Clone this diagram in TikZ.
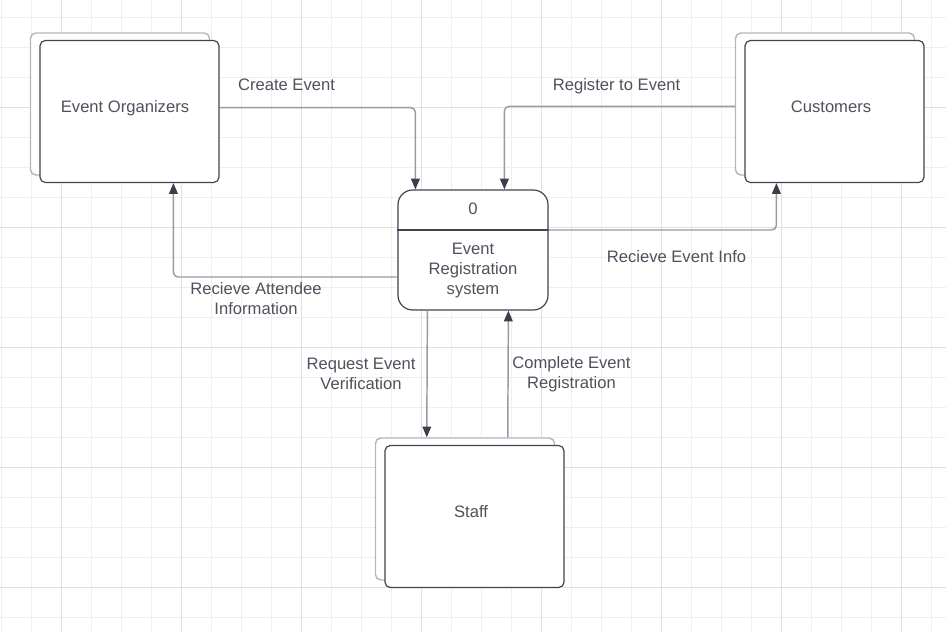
\documentclass[tikz,border=0pt]{standalone}
\usepackage{fontspec}
\setmainfont{Liberation Sans}
\usetikzlibrary{arrows.meta,calc}
\definecolor{gridminor}{HTML}{EFEFEF}
\definecolor{gridmajor}{HTML}{E0E0E0}
\definecolor{backline}{HTML}{B4B8BD}
\definecolor{frontline}{HTML}{3F4450}
\definecolor{flowline}{HTML}{979BA2}
\definecolor{tipdark}{HTML}{3A3F4B}
\definecolor{txt}{HTML}{4D525B}
\begin{document}
\begin{tikzpicture}[x=0.75pt,y=-0.75pt,
  backbox/.style={draw=backline,fill=white,line width=1.1pt,rounded corners=4pt,
    minimum width=134.25pt,minimum height=106.5pt,inner sep=0pt},
  frontbox/.style={draw=frontline,fill=white,line width=0.9pt,rounded corners=4pt,
    minimum width=134.25pt,minimum height=106.5pt,inner sep=0pt},
  procbox/.style={draw=frontline,fill=white,line width=0.9pt,rounded corners=11pt,
    minimum width=112.5pt,minimum height=90pt,inner sep=0pt},
  lbl/.style={text=txt,font=\fontsize{12.45}{15}\selectfont,inner sep=0pt,align=center},
  flow/.style={draw=flowline,line width=1.1pt,rounded corners=3.5pt,
    -{Triangle[length=8pt,width=6.5pt,color=tipdark]}}]
\useasboundingbox (0,0) rectangle (946,632);
\fill[white] (0,0) rectangle (946,632);
% grid
\foreach \x in {1,31,...,946} \draw[gridminor,line width=0.75pt] (\x,0) -- (\x,632);
\foreach \y in {17,47,...,632} \draw[gridminor,line width=0.75pt] (0,\y) -- (946,\y);
\foreach \x in {61,181,...,946} \draw[gridmajor,line width=0.75pt] (\x,0) -- (\x,632);
\foreach \y in {107,227,...,632} \draw[gridmajor,line width=0.75pt] (0,\y) -- (946,\y);
% external entities
\node[backbox]  (orgB)  at (120,104) {};
\node[frontbox] (orgF)  at (129.5,111.5) {};
\node[lbl,anchor=base] (org) at (125,112) {Event Organizers};
\node[backbox]  (custB) at (825,104) {};
\node[frontbox] (custF) at (834.5,111.5) {};
\node[lbl,anchor=base] (cust) at (831,112) {Customers};
\node[backbox]  (staffB) at (465,509) {};
\node[frontbox] (staffF) at (474.5,516.5) {};
\node[lbl,anchor=base] (staff) at (471,517) {Staff};
% process
\node[procbox] (proc) at (473,250) {};
\draw[frontline,line width=0.9pt] (proc.west |- 0,230) -- (proc.east |- 0,230);
\node[lbl,anchor=base] (pnum) at (473,214) {0};
\node[lbl] (pname) at (473,271) {Event\\Registration\\system};
% flows
\draw[flow] (org -| orgF.east) -| ($(proc.north west)+(18,0)$);
\draw[flow] (cust -| custB.west) -| ($(proc.north west)+(107,0)$);
\draw[flow] (proc.east |- 0,230) -| ($(custF.south west)+(32,0)$);
\draw[flow] (proc.west |- 0,277) -| ($(orgF.south west)+(134,0)$);
\draw[flow] ($(proc.south west)+(30,0)$) -- ($(staffB.north west)+(52,0)$);
\draw[flow] ($(staffB.north west)+(133,0)$) -- ($(proc.south west)+(111,0)$);
% labels
\node[lbl,anchor=base] (l1) at (286.5,90) {Create Event};
\node[lbl,anchor=base] (l2) at (616.5,90) {Register to Event};
\node[lbl,anchor=base] (l3) at (676.5,262) {Recieve Event Info};
\node[lbl] (l4) at (256,299) {Recieve Attendee\\Information};
\node[lbl] (l5) at (361,374) {Request Event\\Verification};
\node[lbl] (l6) at (571.5,374) {Complete Event\\Registration};
\end{tikzpicture}
\end{document}
